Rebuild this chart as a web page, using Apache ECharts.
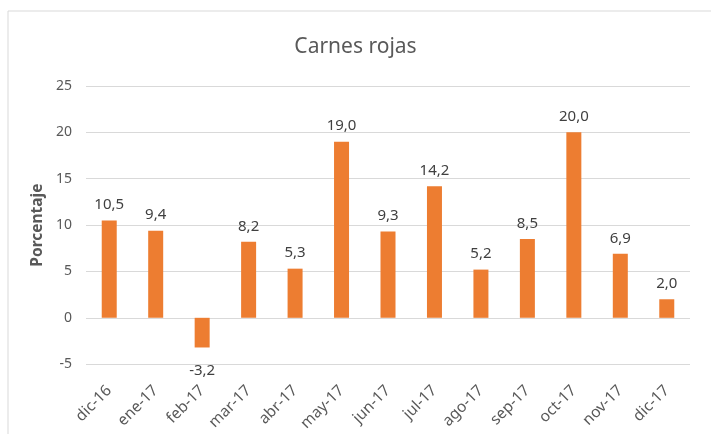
<!DOCTYPE html>
<html>
<head>
<meta charset="utf-8">
<script src="https://cdn.jsdelivr.net/npm/echarts@6/dist/echarts.min.js"></script>
<style>
  html, body { margin: 0; padding: 0; background: #fff; }
  #chart { width: 711px; height: 434px; }
</style>
</head>
<body>
<div id="chart"></div>
<script>
const months = ['dic-16', 'ene-17', 'feb-17', 'mar-17', 'abr-17', 'may-17', 'jun-17',
  'jul-17', 'ago-17', 'sep-17', 'oct-17', 'nov-17', 'dic-17'];
const values = [10.5, 9.4, -3.2, 8.2, 5.3, 19.0, 9.3, 14.2, 5.2, 8.5, 20.0, 6.9, 2.0];
const yTicks = { min: -5, max: 25, interval: 5 };

const font = '"Noto Sans", sans-serif';
const chart = echarts.init(document.getElementById('chart'));

// negative values get their label under the bar
const barData = values.map(v => ({
  value: v,
  label: v < 0 ? { position: 'bottom', distance: 16 } : { position: 'top', distance: 8 }
}));

chart.setOption({
  animation: false,
  graphic: [{
    type: 'rect',
    shape: { x: 8, y: 11, width: 740, height: 460 },
    style: { fill: 'none', stroke: '#D9D9D9', lineWidth: 1 },
    silent: true
  }],
  title: {
    text: 'Carnes rojas',
    left: 'center',
    top: 32,
    textStyle: { color: '#595959', fontSize: 21, fontWeight: 'normal', fontFamily: font }
  },
  grid: { left: 86, right: 21, top: 86, bottom: 69 },
  xAxis: {
    type: 'category',
    data: months,
    axisLine: { show: false, onZero: false },
    axisTick: { show: false },
    axisLabel: {
      rotate: 45,
      color: '#595959',
      fontSize: 15.5,
      fontFamily: font,
      margin: 24
    }
  },
  yAxis: {
    type: 'value',
    min: yTicks.min,
    max: yTicks.max,
    interval: yTicks.interval,
    name: 'Porcentaje',
    nameLocation: 'middle',
    nameGap: 38,
    nameTextStyle: { color: '#595959', fontSize: 15.5, fontWeight: 'bold', fontFamily: font },
    axisLine: { show: false },
    axisTick: { show: false },
    axisLabel: { color: '#595959', fontSize: 14, fontFamily: font, margin: 14 },
    splitLine: { lineStyle: { color: '#D9D9D9', width: 1 } }
  },
  series: [{
    type: 'bar',
    data: barData,
    barWidth: 15,
    itemStyle: { color: '#ED7D31' },
    label: {
      show: true,
      color: '#404040',
      fontSize: 15,
      fontFamily: font,
      formatter: p => p.value.toFixed(1).replace('.', ',')
    }
  }]
});
</script>
</body>
</html>
